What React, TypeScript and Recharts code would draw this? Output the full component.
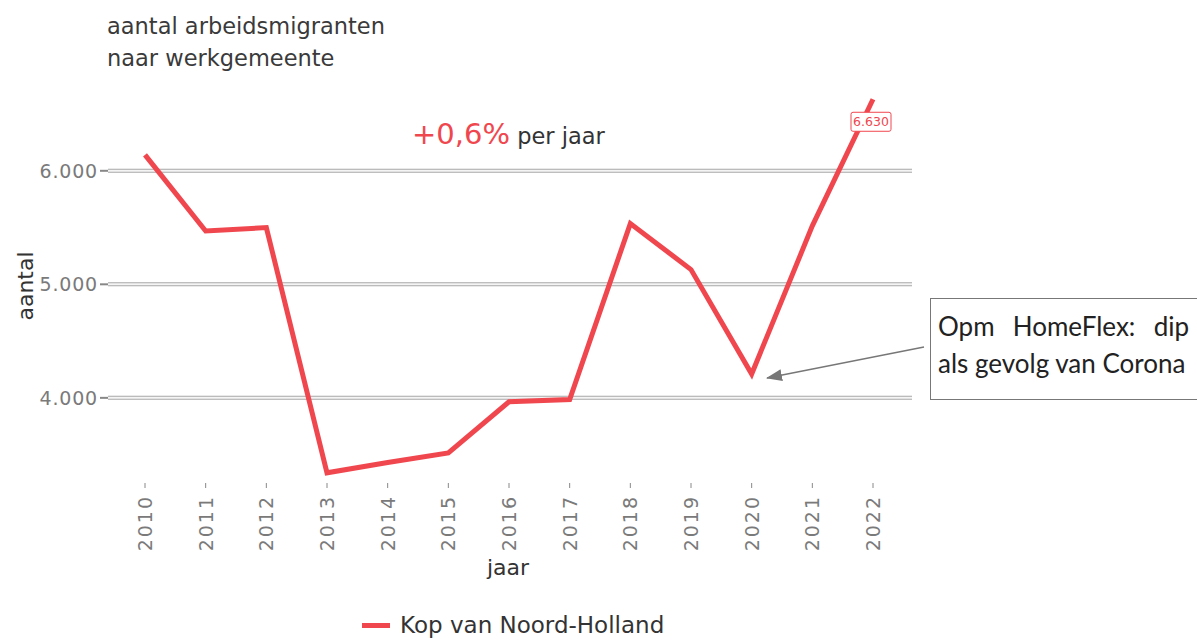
import React from 'react';
import { LineChart, Line, XAxis, YAxis, ReferenceLine, LabelList } from 'recharts';

const years = ['2010', '2011', '2012', '2013', '2014', '2015', '2016', '2017', '2018', '2019', '2020', '2021', '2022'];
const kopVanNoordHolland = [6140, 5470, 5500, 3340, 3430, 3515, 3965, 3985, 5535, 5130, 4210, 5515, 6630];
const yTicks = [4000, 5000, 6000];

const RED = '#f0474f';
const FONT = '"DejaVu Sans", "Liberation Sans", sans-serif';

const data = years.map((year, i) => ({ year, value: kopVanNoordHolland[i] }));

const fmt = (v: number) => v.toLocaleString('nl-NL');

const YearTick = (props: any) => {
  const { x, y, payload } = props;
  return (
    <text
      x={0}
      y={0}
      transform={`translate(${x + 7},${y + 5}) rotate(-90)`}
      textAnchor="end"
      fontSize={19}
      letterSpacing={2}
      fill="#7a7a7a"
      fontFamily={FONT}
    >
      {payload.value}
    </text>
  );
};

const LastLabel = (props: any) => {
  const { x, y, value, index } = props;
  if (index !== kopVanNoordHolland.length - 1) return null;
  return (
    <g>
      <rect x={x - 22} y={y + 13} width={40} height={19} fill="#fff" stroke={RED} strokeWidth={1} rx={2} />
      <text x={x - 2} y={y + 27} textAnchor="middle" fontSize={12.5} fill={RED} fontFamily={FONT}>
        {fmt(value)}
      </text>
    </g>
  );
};

export default function App() {
  return (
    <div style={{ position: 'absolute', left: 0, top: 0, width: 1197, height: 642, background: '#fff', overflow: 'hidden', fontFamily: FONT }}>
      <div style={{ position: 'absolute', left: 107, top: 10, fontSize: 22.5, lineHeight: '32px', color: '#3a3a3a' }}>
        aantal arbeidsmigranten
        <br />
        naar werkgemeente
      </div>
      <div style={{ position: 'absolute', left: 412, top: 117, whiteSpace: 'nowrap', color: '#333' }}>
        <span style={{ fontSize: 29, color: RED }}>+0,6%</span>
        <span style={{ fontSize: 22.5 }}> per jaar</span>
      </div>

      <LineChart width={1197} height={642} data={data} margin={{ top: 97, right: 285, bottom: 99, left: 0 }}>
        {yTicks.map((t) => (
          <ReferenceLine key={`g${t}`} y={t} stroke="#a8a8a8" strokeWidth={4} />
        ))}
        {yTicks.map((t) => (
          <ReferenceLine key={`w${t}`} y={t} stroke="#f4f4f4" strokeWidth={2} />
        ))}
        <XAxis
          dataKey="year"
          padding={{ left: 37, right: 39 }}
          axisLine={false}
          tickLine={{ stroke: '#888' }}
          tickSize={5}
          tick={<YearTick />}
          interval={0}
          height={60}
        />
        <YAxis
          domain={[3250, 6650]}
          ticks={yTicks}
          width={108}
          axisLine={false}
          tickLine={{ stroke: '#888', strokeWidth: 2 }}
          tickSize={8}
          tickFormatter={fmt}
          tick={{ fontSize: 19, fill: '#7a7a7a', fontFamily: FONT, letterSpacing: 0.8 }}
        />
        <Line
          type="linear"
          dataKey="value"
          stroke={RED}
          strokeWidth={5}
          dot={false}
          isAnimationActive={false}
        >
          <LabelList dataKey="value" content={<LastLabel />} />
        </Line>
      </LineChart>

      <div style={{ position: 'absolute', left: 25, top: 286, transform: 'translate(-50%,-50%) rotate(-90deg)', fontSize: 22, color: '#333', whiteSpace: 'nowrap' }}>
        aantal
      </div>
      <div style={{ position: 'absolute', left: 487, top: 555, fontSize: 22, color: '#333' }}>jaar</div>

      <div style={{ position: 'absolute', left: 362, top: 612, display: 'flex', alignItems: 'center', fontSize: 23, color: '#333', whiteSpace: 'nowrap' }}>
        <span style={{ display: 'inline-block', width: 28, height: 5, background: RED, marginRight: 10 }} />
        Kop van Noord-Holland
      </div>

      <svg style={{ position: 'absolute', left: 0, top: 0 }} width={1197} height={642}>
        <defs>
          <marker id="arr" markerWidth="16" markerHeight="12" refX="15" refY="6" orient="auto" markerUnits="userSpaceOnUse">
            <path d="M0,0 L16,6 L0,12 z" fill="#777" />
          </marker>
        </defs>
        <line x1={924} y1={347} x2={767} y2={378} stroke="#777" strokeWidth={1.3} markerEnd="url(#arr)" />
      </svg>
      <div
        style={{
          position: 'absolute',
          left: 930,
          top: 298,
          width: 268,
          height: 102,
          boxSizing: 'border-box',
          border: '1.5px solid #777',
          background: '#fff',
          padding: '9px 8px 0 7px',
          fontFamily: 'Lato, "Open Sans", sans-serif',
          fontSize: 26,
          lineHeight: '37px',
          color: '#222',
          whiteSpace: 'nowrap',
        }}
      >
        <div style={{ display: 'flex', justifyContent: 'space-between' }}>
          <span>Opm</span>
          <span>HomeFlex:</span>
          <span>dip</span>
        </div>
        <div>als gevolg van Corona</div>
      </div>
    </div>
  );
}
